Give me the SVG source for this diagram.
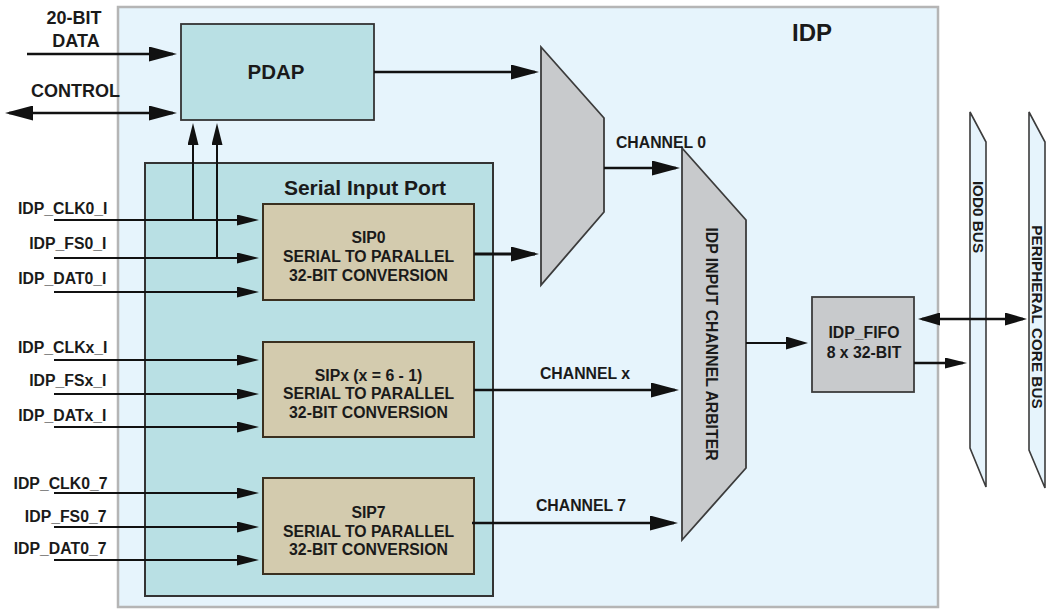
<svg xmlns="http://www.w3.org/2000/svg" width="1051" height="609" viewBox="0 0 1051 609">
<style>
.t{font-family:"Liberation Sans",Arial,Helvetica,sans-serif;font-weight:bold;fill:#1a1a1a;font-size:15.8px}
.c{text-anchor:middle}
.r{text-anchor:end}
.lbl{font-size:18px}
.ln{fill:none;stroke:#111;stroke-width:2}
.w{stroke-width:2.5}
.blk{stroke:#333;stroke-width:1.8}
.cyan{fill:#b9e0e4}
.tan{fill:#d3cbae;stroke:#3a3020;stroke-width:2}
.gry{fill:#c8cacc;stroke:#3c3c3c;stroke-width:1.8}
.bus{fill:#e6f4fc;stroke:#3c3c3c;stroke-width:1.6}
</style>
<defs>
<marker id="ab" markerUnits="userSpaceOnUse" markerWidth="28" markerHeight="15" refX="24" refY="7.5" orient="auto-start-reverse"><path d="M0,0 L28,7.5 L0,15 z" fill="#111"/></marker>
<marker id="am" markerUnits="userSpaceOnUse" markerWidth="22" markerHeight="13" refX="18" refY="6.5" orient="auto-start-reverse"><path d="M0,0 L22,6.5 L0,13 z" fill="#111"/></marker>
<marker id="as" markerUnits="userSpaceOnUse" markerWidth="22" markerHeight="11" refX="18" refY="5.5" orient="auto-start-reverse"><path d="M0,0 L22,5.5 L0,11 z" fill="#111"/></marker>
</defs>
<rect width="1051" height="609" fill="#ffffff"/>
<g id="idp">
<rect x="118" y="7" width="820" height="600" fill="#e6f4fc" stroke="#b5b5b5" stroke-width="2.5"/>
<text class="t c" x="812" y="40.5" style="font-size:24px">IDP</text>
</g>
<g id="serial-input-port">
<rect x="145" y="163" width="348" height="433" class="cyan blk" style="stroke-width:2"/>
<text class="t c" x="365" y="194.5" style="font-size:21px">Serial Input Port</text>
</g>
<g id="pdap">
<rect x="181" y="24" width="193" height="96" class="cyan blk"/>
<text class="t c" x="276" y="79" style="font-size:20.5px">PDAP</text>
</g>
<g id="sip0">
<rect x="263" y="204" width="211" height="96" class="tan"/>
<text class="t c" x="368.5" y="242.5">SIP0</text>
<text class="t c" x="368.5" y="261.5">SERIAL TO PARALLEL</text>
<text class="t c" x="368.5" y="280.5">32-BIT CONVERSION</text>
</g>
<g id="sipx">
<rect x="263" y="342" width="211" height="95" class="tan"/>
<text class="t c" x="368.5" y="380.5">SIPx (x = 6 - 1)</text>
<text class="t c" x="368.5" y="398.5">SERIAL TO PARALLEL</text>
<text class="t c" x="368.5" y="417.5">32-BIT CONVERSION</text>
</g>
<g id="sip7">
<rect x="263" y="478" width="211" height="96" class="tan"/>
<text class="t c" x="368.5" y="517.5">SIP7</text>
<text class="t c" x="368.5" y="536.5">SERIAL TO PARALLEL</text>
<text class="t c" x="368.5" y="554.5">32-BIT CONVERSION</text>
</g>
<g id="mux">
<polygon points="541,47 604,118 604,212 541,285" class="gry"/>
</g>
<g id="arbiter">
<polygon points="682,148 746,220 746,468 682,540" class="gry"/>
<text class="t c" transform="translate(711,344) rotate(90)" y="5.5">IDP INPUT CHANNEL ARBITER</text>
</g>
<g id="idp-fifo">
<rect x="812" y="297" width="102" height="95" class="gry"/>
<text class="t c" x="864" y="338">IDP_FIFO</text>
<text class="t c" x="864" y="357.5">8 x 32-BIT</text>
</g>
<g id="iod0-bus">
<polygon points="970,112 986,142 986,487 970,448" class="bus"/>
<text class="t c" transform="translate(978,217) rotate(90)" y="5.3" style="font-size:15.3px">IOD0 BUS</text>
</g>
<g id="peripheral-core-bus">
<polygon points="1029,112 1045,142 1045,488 1029,450" class="bus"/>
<text class="t c" transform="translate(1037.5,317) rotate(90)" y="5.3" style="font-size:15.3px">PERIPHERAL CORE BUS</text>
</g>
<g id="labels">
<text class="t c lbl" x="74" y="24">20-BIT</text>
<text class="t c lbl" x="76" y="46.5">DATA</text>
<text class="t c lbl" x="75.5" y="96.5">CONTROL</text>
<text class="t r" x="107.5" y="213.5">IDP_CLK0_I</text>
<text class="t r" x="106.5" y="248.5">IDP_FS0_I</text>
<text class="t r" x="106.5" y="283.5">IDP_DAT0_I</text>
<text class="t r" x="107.5" y="352.5">IDP_CLKx_I</text>
<text class="t r" x="106.5" y="385.5">IDP_FSx_I</text>
<text class="t r" x="106.5" y="420.5">IDP_DATx_I</text>
<text class="t r" x="107.5" y="488.5">IDP_CLK0_7</text>
<text class="t r" x="106.5" y="521.5">IDP_FS0_7</text>
<text class="t r" x="106.5" y="553.5">IDP_DAT0_7</text>
<text class="t c" x="661" y="148.3">CHANNEL 0</text>
<text class="t c" x="585" y="379">CHANNEL x</text>
<text class="t c" x="581" y="511">CHANNEL 7</text>
</g>
<g id="connectors">
<path class="ln w" d="M27,54 H173" marker-end="url(#ab)"/>
<path class="ln w" d="M9,113 H173" marker-start="url(#ab)" marker-end="url(#ab)"/>
<path class="ln" d="M193,220 V127" marker-end="url(#as)"/>
<path class="ln" d="M217,258 V127" marker-end="url(#as)"/>
<path class="ln" d="M54,220 H255" marker-end="url(#as)"/>
<path class="ln" d="M54,258 H255" marker-end="url(#as)"/>
<path class="ln" d="M54,292 H255" marker-end="url(#as)"/>
<path class="ln" d="M54,360 H255" marker-end="url(#as)"/>
<path class="ln" d="M54,394 H255" marker-end="url(#as)"/>
<path class="ln" d="M54,427 H255" marker-end="url(#as)"/>
<path class="ln" d="M54,493 H255" marker-end="url(#as)"/>
<path class="ln" d="M54,527 H255" marker-end="url(#as)"/>
<path class="ln" d="M54,560 H255" marker-end="url(#as)"/>
<path class="ln w" d="M374,72 H535" marker-end="url(#ab)"/>
<path class="ln" style="stroke-width:3" d="M474,254 H535" marker-end="url(#ab)"/>
<path class="ln w" d="M604,168 H676" marker-end="url(#ab)"/>
<path class="ln w" d="M474,390 H675" marker-end="url(#ab)"/>
<path class="ln w" d="M472,523 H674" marker-end="url(#ab)"/>
<path class="ln" d="M746,343 H804" marker-end="url(#am)"/>
<path class="ln w" d="M922,319 H1023" marker-start="url(#am)" marker-end="url(#am)"/>
<path class="ln w" d="M914,363 H963" marker-end="url(#as)"/>
</g>
</svg>
